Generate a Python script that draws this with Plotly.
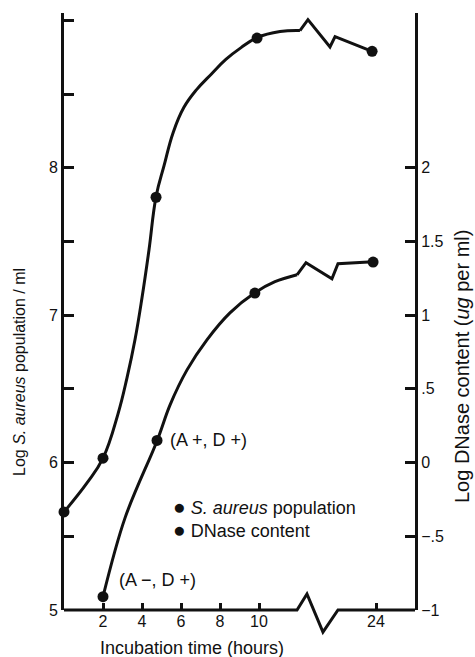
import plotly.graph_objects as go

# ---- data (x in axis positions: hours 0-10 linear, "24" shown at position 16 after the break)
x_tick_vals = [2, 4, 6, 8, 10, 16]
x_tick_text = ["2", "4", "6", "8", "10", "24"]

left_tick_vals = [5, 5.5, 6, 6.5, 7, 7.5, 8, 8.5, 9]
left_tick_text = ["5", "", "6", "", "7", "", "8", "", ""]
right_tick_vals = [-1, -0.5, 0, 0.5, 1, 1.5, 2]
right_tick_text = ["\u22121", "\u2212.5", "0", ".5", "1", "1.5", "2"]

pop_x = [0, 2, 4.72, 9.9, 15.8]
pop_y = [5.665, 6.03, 7.80, 8.88, 8.79]
dnase_x = [2, 4.77, 9.79, 15.85]
dnase_y = [-0.91, 0.15, 1.15, 1.36]

# curves as drawn in the figure
pop_curve_x = [0, 1.18, 2.0, 2.77, 3.23, 3.64, 4.0, 4.36, 4.72, 5.13, 5.6, 6.15, 6.8, 7.55, 8.3, 9.08, 9.9, 11.08, 12.1]
pop_curve_y = [5.665, 5.862, 6.03, 6.331, 6.575, 6.833, 7.118, 7.444, 7.804, 8.014, 8.24, 8.41, 8.53, 8.635, 8.735, 8.815, 8.883, 8.924, 8.931]
pop_break_x = [12.1, 12.51, 13.64, 13.9, 15.8]
pop_break_y = [8.931, 9.005, 8.82, 8.89, 8.79]

dnase_curve_x = [2.0, 3.13, 4.77, 5.44, 6.31, 7.33, 8.51, 9.79, 10.82, 11.95]
dnase_curve_y = [-0.91, -0.375, 0.147, 0.392, 0.629, 0.833, 1.016, 1.152, 1.227, 1.274]
dnase_break_x = [11.95, 12.41, 13.74, 14.05, 15.85]
dnase_break_y = [1.274, 1.356, 1.247, 1.349, 1.363]

# broken x-axis baseline (axis units of the left scale)
axis_break_x = [0, 11.95, 12.46, 13.28, 14.05, 18]
axis_break_y = [5, 5, 5.109, 4.85, 5, 5]

X_RANGE = [0, 18]
Y_RANGE = [5, 9.05]
Y2_RANGE = [-1, 3.05]

FONT = "Liberation Sans, Arial, Helvetica, sans-serif"
INK = "#111111"
LW = 3

fig = go.Figure()

fig.add_trace(go.Scatter(x=pop_curve_x, y=pop_curve_y, mode="lines",
                         line=dict(color=INK, width=LW, shape="spline", smoothing=1.2),
                         showlegend=False, hoverinfo="skip"))
fig.add_trace(go.Scatter(x=pop_break_x, y=pop_break_y, mode="lines",
                         line=dict(color=INK, width=LW), showlegend=False, hoverinfo="skip"))
fig.add_trace(go.Scatter(x=pop_x, y=pop_y, mode="markers",
                         marker=dict(color=INK, size=11), cliponaxis=False, showlegend=False))

fig.add_trace(go.Scatter(x=dnase_curve_x, y=dnase_curve_y, mode="lines", yaxis="y2",
                         line=dict(color=INK, width=LW, shape="spline", smoothing=1.0),
                         showlegend=False, hoverinfo="skip"))
fig.add_trace(go.Scatter(x=dnase_break_x, y=dnase_break_y, mode="lines", yaxis="y2",
                         line=dict(color=INK, width=LW), showlegend=False, hoverinfo="skip"))
fig.add_trace(go.Scatter(x=dnase_x, y=dnase_y, mode="markers", yaxis="y2",
                         marker=dict(color=INK, size=11), cliponaxis=False, showlegend=False))

# broken baseline as a paper-referenced path computed from the axis scales
def px(x):
    return (x - X_RANGE[0]) / (X_RANGE[1] - X_RANGE[0])

def py(y):
    return (y - Y_RANGE[0]) / (Y_RANGE[1] - Y_RANGE[0])

path = "M " + " L ".join(f"{px(a):.5f},{py(b):.5f}" for a, b in zip(axis_break_x, axis_break_y))
fig.add_shape(type="path", path=path, xref="paper", yref="paper",
              line=dict(color=INK, width=LW), layer="above")

fig.update_layout(
    width=475, height=657,
    margin=dict(l=64, r=60, t=13, b=47),
    paper_bgcolor="white", plot_bgcolor="white",
    font=dict(family=FONT, color=INK, size=15),
    showlegend=False,
    xaxis=dict(range=X_RANGE, showgrid=False, zeroline=False, showline=False,
               tickvals=x_tick_vals, ticktext=x_tick_text,
               ticks="inside", ticklen=7, tickwidth=2.5, tickcolor=INK,
               tickfont=dict(size=16)),
    yaxis=dict(range=Y_RANGE, showgrid=False, zeroline=False, showline=True,
               linecolor=INK, linewidth=LW,
               tickvals=left_tick_vals, ticktext=left_tick_text,
               ticks="inside", ticklen=10, tickwidth=2.5, tickcolor=INK,
               tickfont=dict(size=16)),
    yaxis2=dict(range=Y2_RANGE, overlaying="y", side="right", showgrid=False,
                zeroline=False, showline=True, linecolor=INK, linewidth=LW,
                tickvals=right_tick_vals, ticktext=right_tick_text,
                ticks="inside", ticklen=10, tickwidth=2.5, tickcolor=INK,
                tickfont=dict(size=16)),
)

fig.add_annotation(text="Incubation time (hours)", xref="paper", yref="paper",
                   x=(192 - 64) / 351, y=-(648 - 610) / 597, showarrow=False,
                   font=dict(size=18), xanchor="center", yanchor="middle")
fig.add_annotation(text="Log <i>S. aureus</i> population / ml", xref="paper", yref="paper",
                   x=-(64 - 19) / 351, y=(610 - 372) / 597, showarrow=False, textangle=-90,
                   font=dict(size=16), xanchor="center", yanchor="middle")
fig.add_annotation(text="Log DNase content (<i>ug</i> per ml)", xref="paper", yref="paper",
                   x=(462 - 64) / 351, y=(610 - 366) / 597, showarrow=False, textangle=-90,
                   font=dict(size=20), xanchor="center", yanchor="middle")

# point labels
fig.add_annotation(text="(A +, D +)", x=dnase_x[1], y=dnase_y[1], yref="y2", xref="x",
                   xanchor="left", yanchor="middle", xshift=11, showarrow=False,
                   font=dict(size=18))
fig.add_annotation(text="(A \u2212, D +)", x=dnase_x[0], y=dnase_y[0], yref="y2", xref="x",
                   xanchor="left", yanchor="middle", xshift=14, yshift=17, showarrow=False,
                   font=dict(size=18))

# key
bullet = "<span style='font-size:21px'>\u25CF</span>"
fig.add_annotation(text=bullet + " <i>S. aureus</i> population<br>" + bullet + " DNase content",
                   xref="paper", yref="paper", align="left",
                   x=(171 - 64) / 351, y=(610 - 518) / 597, xanchor="left", yanchor="middle",
                   showarrow=False, font=dict(size=18))

fig.write_html("out.html")
